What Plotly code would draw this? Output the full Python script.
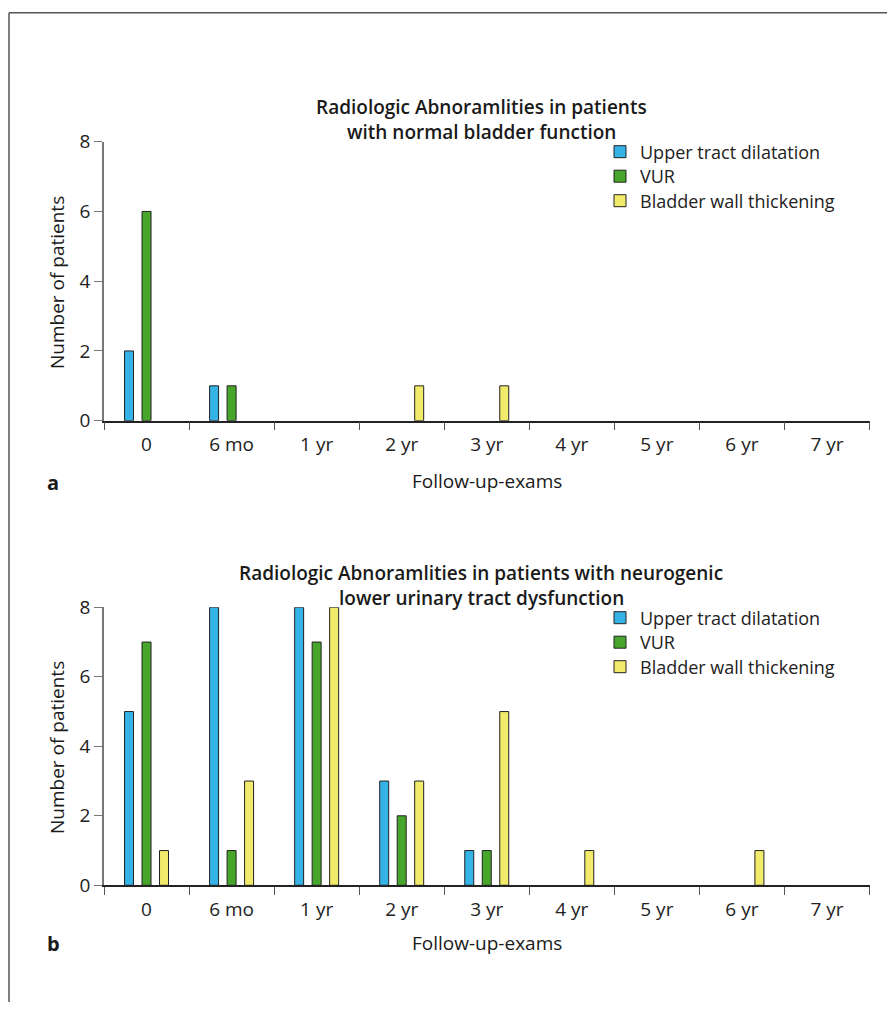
import plotly.graph_objects as go

categories = ["0", "6 mo", "1 yr", "2 yr", "3 yr", "4 yr", "5 yr", "6 yr", "7 yr"]
series_names = ["Upper tract dilatation", "VUR", "Bladder wall thickening"]

# Panel a: normal bladder function
a_upper = [2, 1, 0, 0, 0, 0, 0, 0, 0]
a_vur = [6, 1, 0, 0, 0, 0, 0, 0, 0]
a_bladder = [0, 0, 0, 1, 1, 0, 0, 0, 0]

# Panel b: neurogenic lower urinary tract dysfunction
b_upper = [5, 8, 8, 3, 1, 0, 0, 0, 0]
b_vur = [7, 1, 7, 2, 1, 0, 0, 0, 0]
b_bladder = [1, 3, 8, 3, 5, 1, 0, 1, 0]

title_a = ["Radiologic Abnoramlities in patients", "with normal bladder function"]
title_b = ["Radiologic Abnoramlities in patients with neurogenic", "lower urinary tract dysfunction"]
x_title = "Follow-up-exams"
y_title = "Number of patients"
y_ticks = [0, 2, 4, 6, 8]

colors = ["#36b3e6", "#47a52b", "#f2ea6b"]
FONT = "Open Sans"
# page body has an 8px margin; figure sized so it fits the 895x1010 window
OFF = 8
W, H = 895 - 2 * OFF, 1010 - 2 * OFF

def px(x):
    return (x - OFF) / W

def py(y):
    return 1 - (y - OFF) / H

def nz(vals):
    # zero counts have no visible bar
    return [v if v else None for v in vals]

fig = go.Figure()

LEG_FONT = 18
panels = [("a", [a_upper, a_vur, a_bladder], "x", "y", [152, 176.5, 201]),
          ("b", [b_upper, b_vur, b_bladder], "x2", "y2", [618, 642.5, 667])]
legend_layout = {}
k = 0
for tag, series, xa, ya, lcenters in panels:
    for vals, name, col, lc in zip(series, series_names, colors, lcenters):
        k += 1
        lname = "legend" if k == 1 else f"legend{k}"
        fig.add_trace(go.Bar(x=categories, y=nz(vals), name=name, marker_color=col,
                             marker_line_color="#222222", marker_line_width=1,
                             xaxis=xa, yaxis=ya, legend=lname))
        legend_layout[lname] = dict(font=dict(family=FONT, size=LEG_FONT, color="#222222"),
                                    bgcolor="rgba(0,0,0,0)", xanchor="left", yanchor="top",
                                    itemwidth=30, x=px(600), y=py(lc - 18.5))

xcommon = dict(type="category", showgrid=False, zeroline=False, showline=True,
               linecolor="#222222", linewidth=1.5, ticks="outside", ticklen=8,
               tickcolor="#555555", tickwidth=1.2, tickson="boundaries",
               ticklabelstandoff=6,
               tickfont=dict(family=FONT, size=19, color="#222222"),
               domain=[px(104), px(869.5)], fixedrange=True, automargin=False,
               categoryorder="array", categoryarray=categories, range=[-0.5, 8.5])
ycommon = dict(range=[0, 8], tickvals=y_ticks, showgrid=False, zeroline=False,
               showline=True, linecolor="#777777", linewidth=1.5, ticks="outside",
               ticklen=8, tickcolor="#777777", tickwidth=1.2, automargin=False,
               tickfont=dict(family=FONT, size=19, color="#222222"), fixedrange=True)

fig.update_layout(
    width=W, height=H,
    margin=dict(l=0, r=0, t=0, b=0),
    paper_bgcolor="white", plot_bgcolor="white",
    barmode="group", bargap=0.383, bargroupgap=0.486,
    xaxis=dict(**xcommon, anchor="y"),
    yaxis=dict(**ycommon, domain=[py(420.7), py(141.7)], anchor="x"),
    xaxis2=dict(**xcommon, anchor="y2"),
    yaxis2=dict(**ycommon, domain=[py(885.3), py(607.3)], anchor="x2"),
    showlegend=True,
    **legend_layout,
)

ann = []
def txt(x, y, t, size, weight=400, angle=0):
    ann.append(dict(x=px(x), y=py(y), xref="paper", yref="paper", text=t, showarrow=False,
                    xanchor="center", yanchor="middle", textangle=angle,
                    font=dict(family=FONT, size=size, color="#1a1a1a", weight=weight)))

txt(481, 107, title_a[0], 19, weight=600)
txt(481, 132, title_a[1], 19, weight=600)
txt(481, 573, title_b[0], 19, weight=600)
txt(481, 598, title_b[1], 19, weight=600)
txt(487, 481, x_title, 19)
txt(487, 943, x_title, 19)
txt(57, 283, y_title, 19, angle=-90)
txt(57, 748, y_title, 19, angle=-90)
txt(53, 482, "a", 20, weight=700)
txt(53, 943, "b", 20, weight=700)
fig.update_layout(annotations=ann)

fig.add_shape(type="line", xref="paper", yref="paper", x0=px(9), x1=px(9), y0=0, y1=py(12.7),
              line=dict(color="#555555", width=1.5))
fig.add_shape(type="line", xref="paper", yref="paper", x0=px(9), x1=1, y0=py(12.7), y1=py(12.7),
              line=dict(color="#555555", width=1.5))

fig.write_html("out.html")
